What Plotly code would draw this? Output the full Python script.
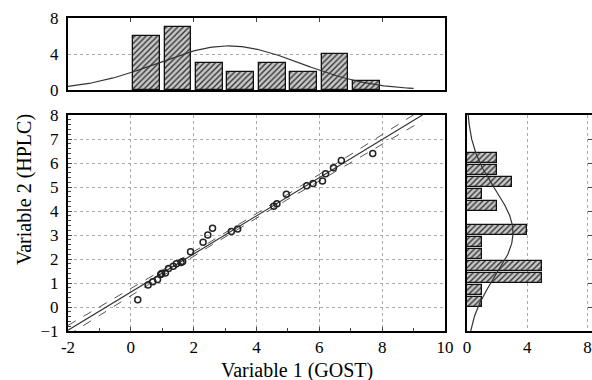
import numpy as np
import plotly.graph_objects as go

# ---- data ----
x_gost = [0.22, 0.55, 0.70, 0.85, 0.95, 0.98,
          1.10, 1.20, 1.35, 1.45, 1.60, 1.65, 1.90,
          2.30, 2.45, 2.60,
          3.20, 3.40,
          4.55, 4.65, 4.95,
          5.60, 5.80,
          6.10, 6.20, 6.45, 6.70,
          7.70]
y_hplc = [0.30, 0.92, 1.05, 1.15, 1.35, 1.40,
          1.42, 1.60, 1.70, 1.80, 1.85, 1.90, 2.30,
          2.70, 3.00, 3.28,
          3.15, 3.25,
          4.20, 4.30, 4.70,
          5.05, 5.15,
          5.25, 5.55, 5.80, 6.10,
          6.40]

top_bin_centers = [0.5, 1.5, 2.5, 3.5, 4.5, 5.5, 6.5, 7.5]
top_counts = [6, 7, 3, 2, 3, 2, 4, 1]
right_bin_centers = [0.2, 0.7, 1.2, 1.7, 2.2, 2.7, 3.2, 3.7, 4.2, 4.7, 5.2, 5.7, 6.2]
right_counts = [1, 1, 5, 5, 1, 1, 4, 0, 2, 1, 3, 2, 2]

x_ticks = [-2, 0, 2, 4, 6, 8, 10]
y_ticks = [-1, 0, 1, 2, 3, 4, 5, 6, 7, 8]

# ---- derived: regression + confidence band, normal curves ----
xa = np.array(x_gost); ya = np.array(y_hplc)
n = len(xa)
b, a = np.polyfit(xa, ya, 1)
resid = ya - (a + b * xa)
s = np.sqrt(np.sum(resid ** 2) / (n - 2))
sxx = np.sum((xa - xa.mean()) ** 2)
x_end = (8 - a) / b
xl = np.linspace(-2, min(x_end, 10), 100)
yl = a + b * xl
ci = 2.05 * s * np.sqrt(1 / n + (xl - xa.mean()) ** 2 / sxx)

def normal_curve(grid, data, binw):
    m = np.mean(data); sd = np.std(data, ddof=1)
    return len(data) * binw * np.exp(-0.5 * ((grid - m) / sd) ** 2) / (sd * np.sqrt(2 * np.pi))

gx = np.linspace(-2, 9, 200)
gy = np.linspace(-1, 8, 200)
top_curve = normal_curve(gx, xa, 1.0)
right_curve = normal_curve(gy, ya, 0.5)

FONT = "Liberation Serif, Times New Roman, serif"
fig = go.Figure()

# main scatter panel
fig.add_trace(go.Scatter(x=xl, y=yl, mode="lines", line=dict(color="#333", width=1.2),
                         xaxis="x", yaxis="y", hoverinfo="skip"))
fig.add_trace(go.Scatter(x=xl, y=yl + ci, mode="lines", line=dict(color="#555", width=1, dash="dash"),
                         xaxis="x", yaxis="y", hoverinfo="skip"))
fig.add_trace(go.Scatter(x=xl, y=yl - ci, mode="lines", line=dict(color="#555", width=1, dash="dash"),
                         xaxis="x", yaxis="y", hoverinfo="skip"))
fig.add_trace(go.Scatter(x=x_gost, y=y_hplc, mode="markers",
                         marker=dict(symbol="circle-open", size=6, color="#222", line=dict(width=1.5)),
                         xaxis="x", yaxis="y"))

pattern = dict(shape="/", fgcolor="#333", bgcolor="#c8c8c8", size=4, solidity=0.35, fillmode="replace")
# top histogram
fig.add_trace(go.Bar(x=top_bin_centers, y=top_counts, width=0.85,
                     marker=dict(color="#bbb", pattern=pattern, line=dict(color="#111", width=1.3)),
                     xaxis="x2", yaxis="y2"))
fig.add_trace(go.Scatter(x=gx, y=top_curve, mode="lines", line=dict(color="#333", width=1.2),
                         xaxis="x2", yaxis="y2", hoverinfo="skip"))
# right histogram
fig.add_trace(go.Bar(y=right_bin_centers, x=right_counts, width=0.4, orientation="h",
                     marker=dict(color="#bbb", pattern=pattern, line=dict(color="#111", width=1.3)),
                     xaxis="x3", yaxis="y3"))
fig.add_trace(go.Scatter(x=right_curve, y=gy, mode="lines", line=dict(color="#333", width=1.2),
                         xaxis="x3", yaxis="y3", hoverinfo="skip"))

frame = dict(showline=True, linecolor="black", linewidth=2, mirror=True, zeroline=False,
             automargin=False)
grid = dict(showgrid=True, gridcolor="#aaa", griddash="dot", gridwidth=1)
tickf = dict(family=FONT, size=17, color="black")

W_MAIN = (445 - 68) / 524
R0 = (467 - 68) / 524
H_MAIN = (331 - 115) / 313
T0 = (331 - 90) / 313

fig.update_layout(
    template="none",
    width=592, height=380,
    margin=dict(l=68, r=0, t=18, b=49, pad=0),
    paper_bgcolor="white", plot_bgcolor="white",
    showlegend=False, bargap=0,
    font=dict(family=FONT, size=17, color="black"),
    xaxis=dict(domain=[0, W_MAIN], range=[-2, 10], tickvals=x_ticks,
               ticktext=[str(v) for v in x_ticks], ticks="inside", ticklen=4,
               minor=dict(dtick=1, ticks="inside", ticklen=3, showgrid=False),
               tickfont=tickf, anchor="y", **frame, **grid),
    yaxis=dict(domain=[0, H_MAIN], range=[-1, 8], tickvals=y_ticks, ticks="inside", ticklen=4,
               minor=dict(dtick=0.2, ticks="inside", ticklen=3, showgrid=False),
               ticklabelstandoff=4,
               tickfont=tickf, anchor="x", **frame, **grid),
    xaxis2=dict(domain=[0, W_MAIN], range=[-2, 10], tickvals=[0, 2, 4, 6, 8], ticks="inside",
                ticklen=4, showticklabels=False, showgrid=False, anchor="y2", side="top", **frame),
    yaxis2=dict(domain=[T0, 1], range=[0, 8], tickvals=[0, 4, 8], ticks="", tickfont=tickf,
                ticklabelstandoff=4,
                anchor="x2", **frame, showgrid=True, gridcolor="#aaa", griddash="dot"),
    xaxis3=dict(domain=[R0, 1], range=[0, 8.3], tickvals=[0, 4, 8], ticks="", tickfont=tickf,
                anchor="y3", **frame, showgrid=True, gridcolor="#aaa", griddash="dot"),
    yaxis3=dict(domain=[0, H_MAIN], range=[-1, 8], tickvals=list(range(0, 8)), ticks="inside",
                ticklen=4, showticklabels=False, showgrid=False, anchor="x3", side="right", **frame),
    annotations=[
        dict(text="Variable 1 (GOST)", x=(297 - 68) / 524, y=-(370 - 331) / 313,
             xref="paper", yref="paper", xanchor="center", yanchor="middle",
             showarrow=False, font=dict(family=FONT, size=20)),
        dict(text="Variable 2 (HPLC)", x=-(68 - 24) / 524, y=(331 - 190) / 313,
             xref="paper", yref="paper", xanchor="center", yanchor="middle",
             textangle=-90, showarrow=False, font=dict(family=FONT, size=20)),
    ],
)

fig.write_html("out.html", config={"displayModeBar": False},
               post_script="document.body.style.margin='0';document.body.style.overflow='hidden';")
